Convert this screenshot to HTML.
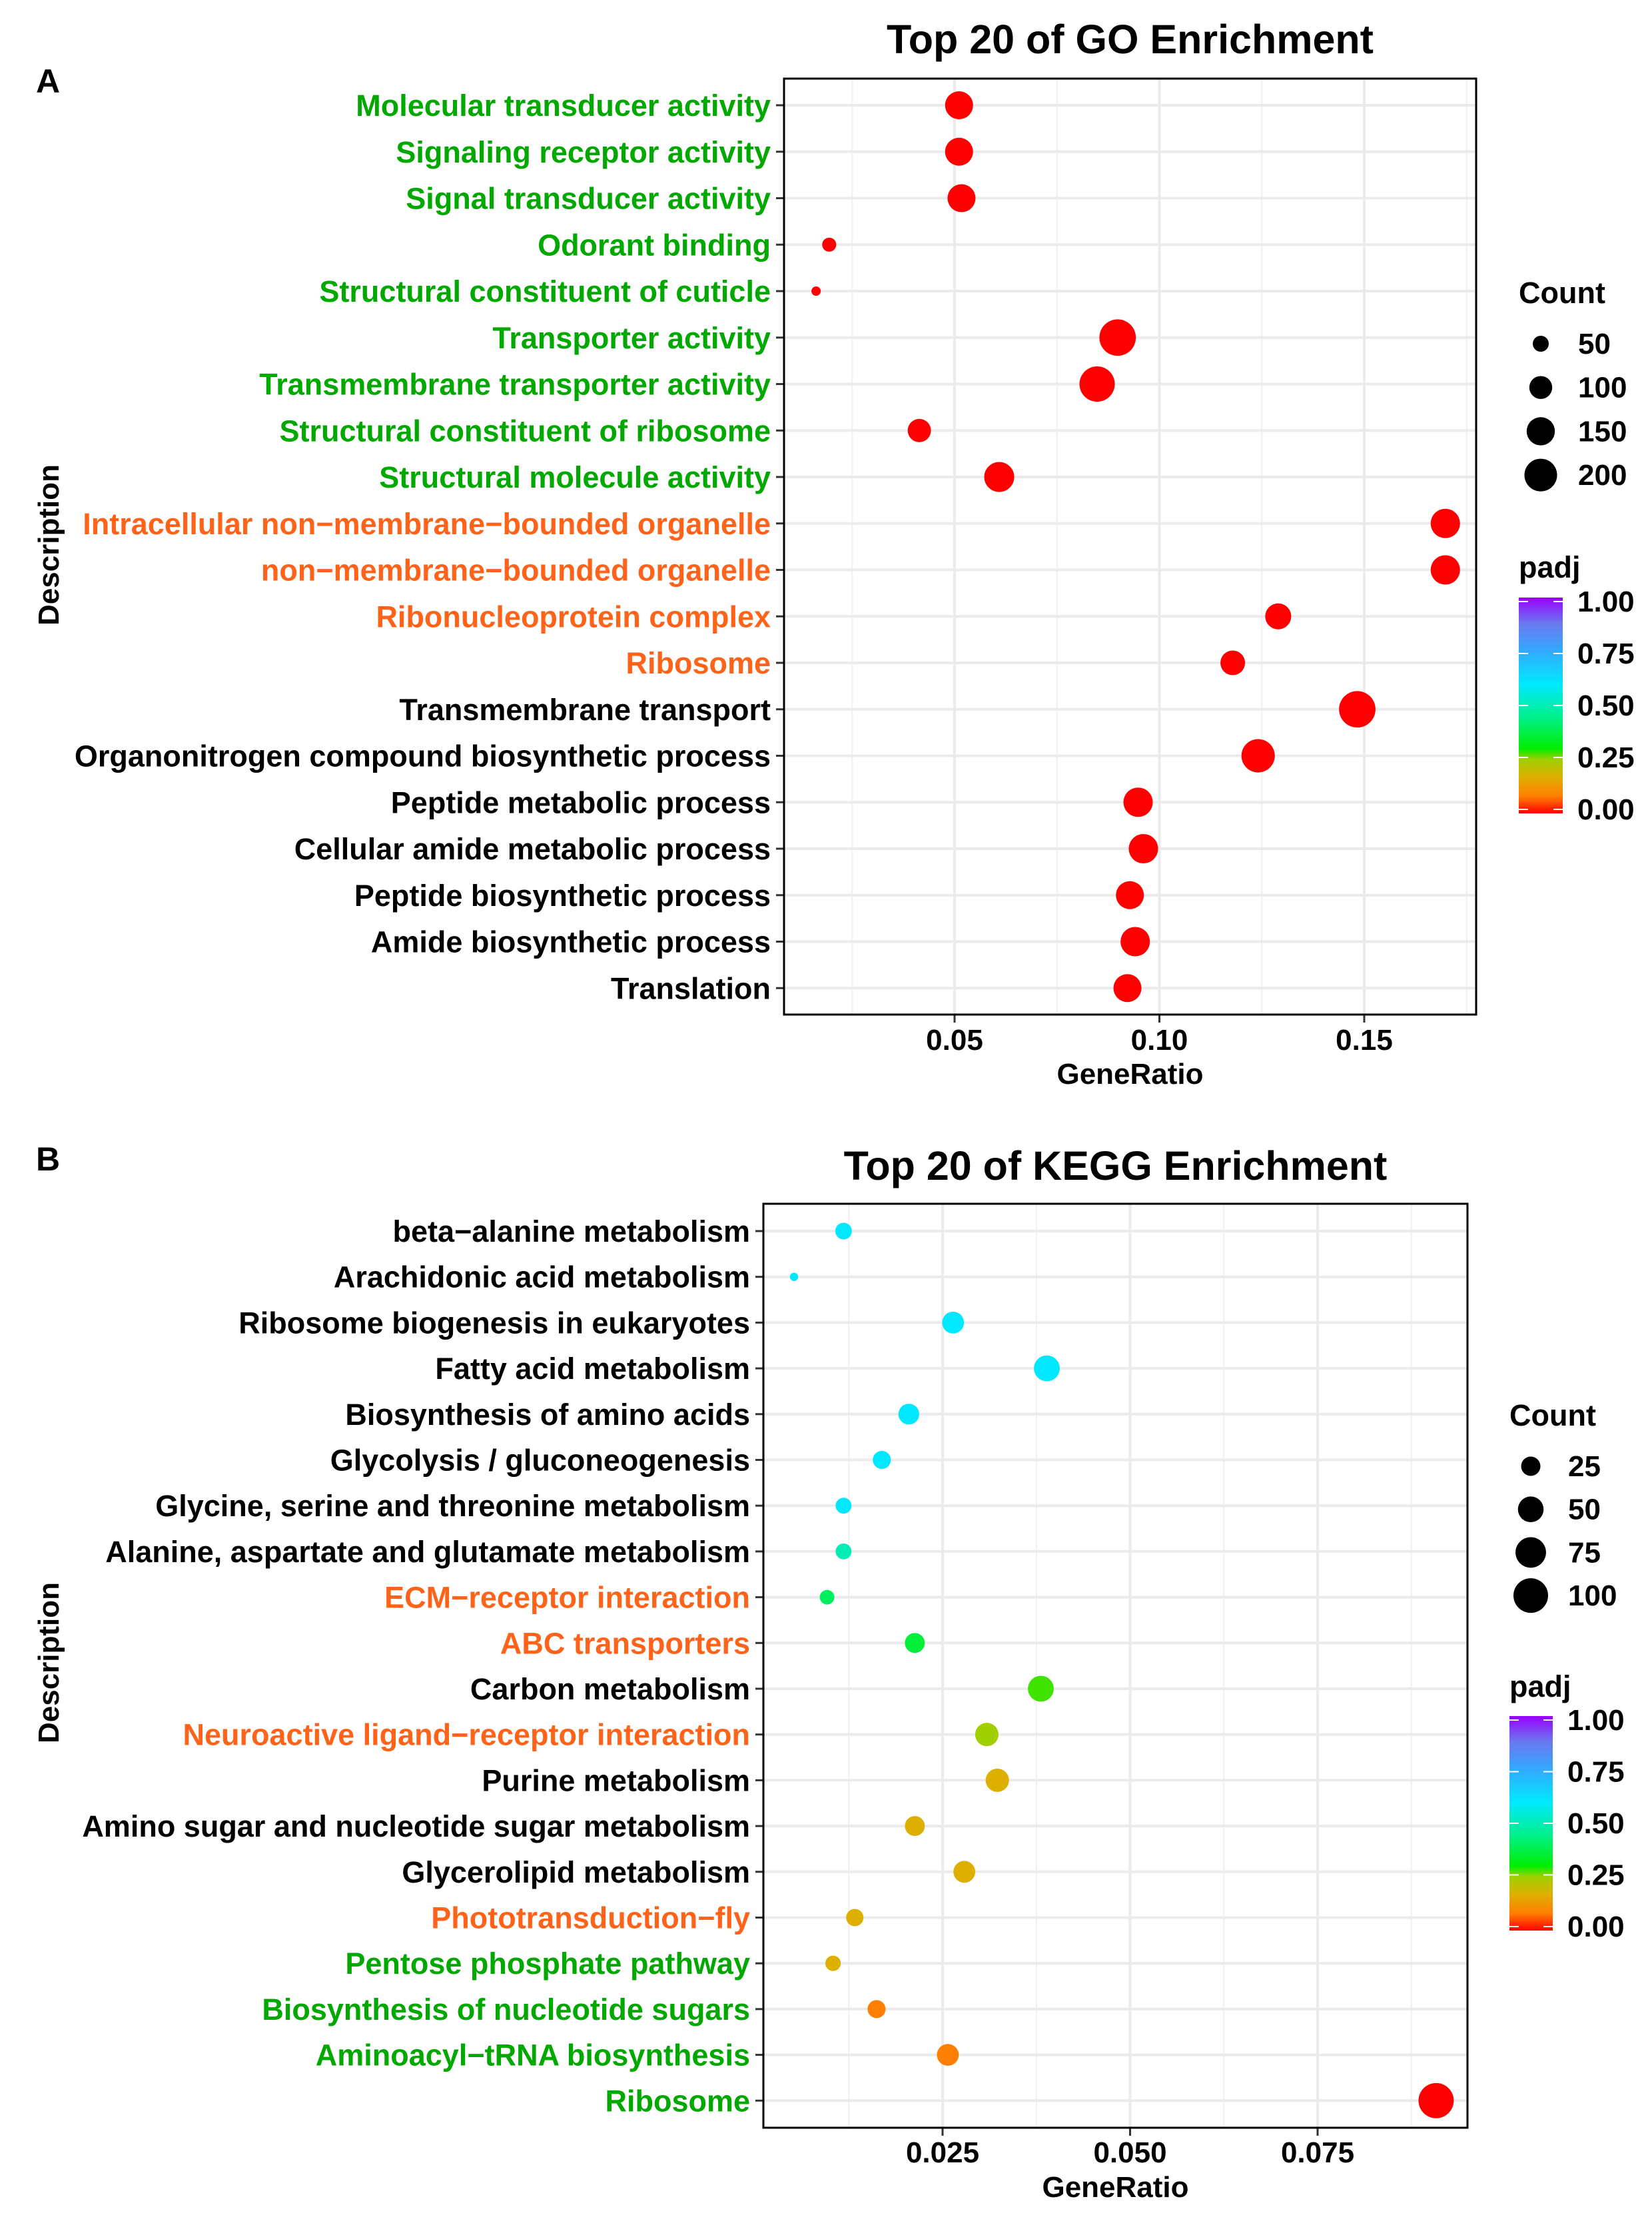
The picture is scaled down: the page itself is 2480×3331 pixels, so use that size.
<!DOCTYPE html>
<html><head><meta charset="utf-8">
<style>
html,body{margin:0;padding:0;background:#fff;}
svg{display:block;font-family:"Liberation Sans",Arial,sans-serif;font-weight:bold;}
</style></head>
<body>
<svg id="svg" width="2480" height="3331" viewBox="0 0 2480 3331" xmlns="http://www.w3.org/2000/svg">
<defs>
<linearGradient id="padjGrad" x1="0" y1="1" x2="0" y2="0">
<stop offset="0" stop-color="#ff0000"/>
<stop offset="0.08" stop-color="#ff7f00"/>
<stop offset="0.17" stop-color="#ddb000"/>
<stop offset="0.25" stop-color="#a0d000"/>
<stop offset="0.3" stop-color="#00ee00"/>
<stop offset="0.45" stop-color="#00f090"/>
<stop offset="0.6" stop-color="#00e8ff"/>
<stop offset="0.75" stop-color="#33aaff"/>
<stop offset="0.88" stop-color="#6a78ee"/>
<stop offset="1" stop-color="#9900ff"/>
</linearGradient>
</defs>
</svg>
<script>
// ---- GO data ----
const goTerms = ["Molecular transducer activity","Signaling receptor activity","Signal transducer activity","Odorant binding","Structural constituent of cuticle","Transporter activity","Transmembrane transporter activity","Structural constituent of ribosome","Structural molecule activity","Intracellular non\u2212membrane\u2212bounded organelle","non\u2212membrane\u2212bounded organelle","Ribonucleoprotein complex","Ribosome","Transmembrane transport","Organonitrogen compound biosynthetic process","Peptide metabolic process","Cellular amide metabolic process","Peptide biosynthetic process","Amide biosynthetic process","Translation"];
const goCategory = ["MF","MF","MF","MF","MF","MF","MF","MF","MF","CC","CC","CC","CC","BP","BP","BP","BP","BP","BP","BP"];
const goRatio = [0.0511,0.0511,0.0517,0.0194,0.0162,0.0898,0.0848,0.0414,0.0609,0.1698,0.1698,0.129,0.1179,0.1483,0.1241,0.0948,0.0961,0.0928,0.0941,0.0922];
const goCount = [148,148,148,39,18,248,233,103,169,162,162,128,115,248,208,162,162,148,162,148];
const goPadj = [0,0,0,0,0,0,0,0,0,0,0,0,0,0,0,0,0,0,0,0];
const goXTicks = [0.05,0.10,0.15];
const goXTickLabels = ["0.05","0.10","0.15"];
const goSizeBreaks = [50,100,150,200];
// ---- KEGG data ----
const keggTerms = ["beta\u2212alanine metabolism","Arachidonic acid metabolism","Ribosome biogenesis in eukaryotes","Fatty acid metabolism","Biosynthesis of amino acids","Glycolysis / gluconeogenesis","Glycine, serine and threonine metabolism","Alanine, aspartate and glutamate metabolism","ECM\u2212receptor interaction","ABC transporters","Carbon metabolism","Neuroactive ligand\u2212receptor interaction","Purine metabolism","Amino sugar and nucleotide sugar metabolism","Glycerolipid metabolism","Phototransduction\u2212fly","Pentose phosphate pathway","Biosynthesis of nucleotide sugars","Aminoacyl\u2212tRNA biosynthesis","Ribosome"];
const keggCategory = ["K","K","K","K","K","K","K","K","O","O","K","O","K","K","K","O","G","G","G","G"];
const keggRatio = [0.0118,0.0052,0.0264,0.0389,0.0205,0.0169,0.0118,0.0118,0.0096,0.0213,0.0381,0.0309,0.0323,0.0213,0.0279,0.0133,0.0104,0.0162,0.0257,0.0908];
const keggCount = [17,2,34,51,30,21,15,15,12,27,51,40,40,27,34,19,14,21,34,104];
const keggPadj = [0.6,0.6,0.6,0.6,0.6,0.6,0.6,0.5,0.4,0.36,0.28,0.25,0.17,0.17,0.17,0.17,0.17,0.08,0.08,0];
const keggXTicks = [0.025,0.050,0.075];
const keggXTickLabels = ["0.025","0.050","0.075"];
const keggSizeBreaks = [25,50,75,100];
const padjTicks = [0,0.25,0.5,0.75,1];
const padjTickLabels = ["0.00","0.25","0.50","0.75","1.00"];

const NS="http://www.w3.org/2000/svg";
const svg=document.getElementById('svg');
function mk(tag,attrs,parent,text){const e=document.createElementNS(NS,tag);for(const k in attrs)e.setAttribute(k,attrs[k]);if(text!==undefined)e.textContent=text;(parent||svg).appendChild(e);return e;}
const stops=[[0,[255,0,0]],[0.08,[255,127,0]],[0.17,[221,176,0]],[0.25,[160,208,0]],[0.3,[0,238,0]],[0.45,[0,240,144]],[0.6,[0,232,255]],[0.75,[51,170,255]],[0.88,[106,120,238]],[1,[153,0,255]]];
function padjColor(p){for(let i=0;i<stops.length-1;i++){const a=stops[i],b=stops[i+1];if(p<=b[0]){const t=(p-a[0])/(b[0]-a[0]);const c=a[1].map((v,j)=>Math.round(v+(b[1][j]-v)*t));return `rgb(${c[0]},${c[1]},${c[2]})`;}}return 'rgb(153,0,255)';}
const labelColor={MF:"#00a800",CC:"#ff6319",BP:"#000",K:"#000",O:"#ff6319",G:"#00a800"};

function panel(cfg){
  const g=mk('g',{});
  
  
  const {L,R,T,B,x0,v0,ppu,row0,rowStep}=cfg;
  const xs=v=>x0+(v-v0)*ppu;
  const ys=i=>row0+i*rowStep;
  mk('rect',{x:L,y:T,width:R-L,height:B-T,fill:'#fff'},g);
  const step=cfg.xTicks[1]-cfg.xTicks[0];
  for(let k=-3;k<6;k++){const v=cfg.xTicks[0]-step/2+k*step;const x=xs(v);if(x>L&&x<R){const l=mk('line',{x1:x,x2:x,y1:T,y2:B,stroke:'#f0f0f0','stroke-width':2},g);}}
  cfg.xTicks.forEach((v,i)=>{const x=xs(v);const l=mk('line',{x1:x,x2:x,y1:T,y2:B,stroke:'#ebebeb','stroke-width':4},g);
    mk('line',{x1:x,x2:x,y1:B,y2:B+12,stroke:'#333','stroke-width':3},g);
    const t=mk('text',{x:x,y:cfg.tickY,'text-anchor':'middle','font-size':44,fill:'#000'},g,cfg.xTickLabels[i]);});
  cfg.terms.forEach((s,i)=>{const y=ys(i);const l=mk('line',{x1:L,x2:R,y1:y,y2:y,stroke:'#ebebeb','stroke-width':4},g);
    mk('line',{x1:L-12,x2:L,y1:y,y2:y,stroke:'#333','stroke-width':3},g);
    const t=mk('text',{x:L-20,y:y+16,'text-anchor':'end','font-size':45,fill:labelColor[cfg.cat[i]]},g,s);});
  cfg.ratio.forEach((v,i)=>{const c=mk('circle',{cx:xs(v),cy:ys(i),r:cfg.size(cfg.count[i])/2,fill:padjColor(cfg.padj[i])},g);});
  const bx=mk('rect',{x:L,y:T,width:R-L,height:B-T,fill:'none',stroke:'#000','stroke-width':3},g);
  const ti=mk('text',{x:(L+R)/2,y:cfg.titleY,'text-anchor':'middle','font-size':61,fill:'#000'},g,cfg.title);
  const xt=mk('text',{x:(L+R)/2,y:cfg.xTitleY,'text-anchor':'middle','font-size':44,fill:'#000'},g,'GeneRatio');
  const yt=mk('text',{x:0,y:0,'text-anchor':'middle','font-size':44,fill:'#000',transform:`translate(88,${cfg.descY}) rotate(-90)`},g,'Description');
  const pl=mk('text',{x:54,y:cfg.letterY,'font-size':50,fill:'#000'},g,cfg.letter);
  const lg=cfg.lg;
  const ct=mk('text',{x:lg.x,y:lg.countY,'font-size':45,fill:'#000'},g,'Count');
  cfg.sizeBreaks.forEach((c,i)=>{const y=lg.rows[0]+i*lg.rowStep;const k=mk('circle',{cx:lg.keyX,cy:y,r:cfg.size(c)/2,fill:'#000'},g);
    const t=mk('text',{x:lg.valX,y:y+15,'font-size':44,fill:'#000'},g,String(c));});
  const pt=mk('text',{x:lg.x,y:lg.padjY,'font-size':45,fill:'#000'},g,'padj');
  const cb=mk('rect',{x:lg.x,y:lg.barT,width:lg.barW,height:lg.barB-lg.barT,fill:'url(#padjGrad)'},g);
  padjTicks.forEach((p,i)=>{const y=lg.barB-6-(lg.barB-lg.barT-12)*p;
    mk('line',{x1:lg.x,x2:lg.x+14,y1:y,y2:y,stroke:'#fff','stroke-width':2},g);
    mk('line',{x1:lg.x+lg.barW-14,x2:lg.x+lg.barW,y1:y,y2:y,stroke:'#fff','stroke-width':2},g);
    const t=mk('text',{x:lg.valX-1,y:y+15,'font-size':44,fill:'#000'},g,padjTickLabels[i]);});
}

panel({name:'go-panel',L:1177,R:2216,T:118,B:1523,x0:1433,v0:0.05,ppu:6150,row0:158,rowStep:69.75,
  terms:goTerms,cat:goCategory,ratio:goRatio,count:goCount,padj:goPadj,xTicks:goXTicks,xTickLabels:goXTickLabels,
  size:c=>-1+3.54*Math.sqrt(c),sizeBreaks:goSizeBreaks,tickY:1576,xTitleY:1627,titleY:80,title:'Top 20 of GO Enrichment',
  descY:818,letter:'A',letterY:139,
  lg:{x:2280,countY:455,keyX:2313,valX:2369,rows:[516],rowStep:65.7,padjY:867,barT:897,barB:1221,barW:66}});

panel({name:'kegg-panel',L:1146,R:2203,T:1807,B:3194,x0:1415,v0:0.025,ppu:11260,row0:1848,rowStep:68.7,
  terms:keggTerms,cat:keggCategory,ratio:keggRatio,count:keggCount,padj:keggPadj,xTicks:keggXTicks,xTickLabels:keggXTickLabels,
  size:c=>6+4.6*Math.sqrt(c),sizeBreaks:keggSizeBreaks,tickY:3246,xTitleY:3298,titleY:1771,title:'Top 20 of KEGG Enrichment',
  descY:2496,letter:'B',letterY:1757,
  lg:{x:2266,countY:2140,keyX:2298,valX:2354,rows:[2201],rowStep:64.7,padjY:2547,barT:2576,barB:2898,barW:65}});
</script>
</body></html>
